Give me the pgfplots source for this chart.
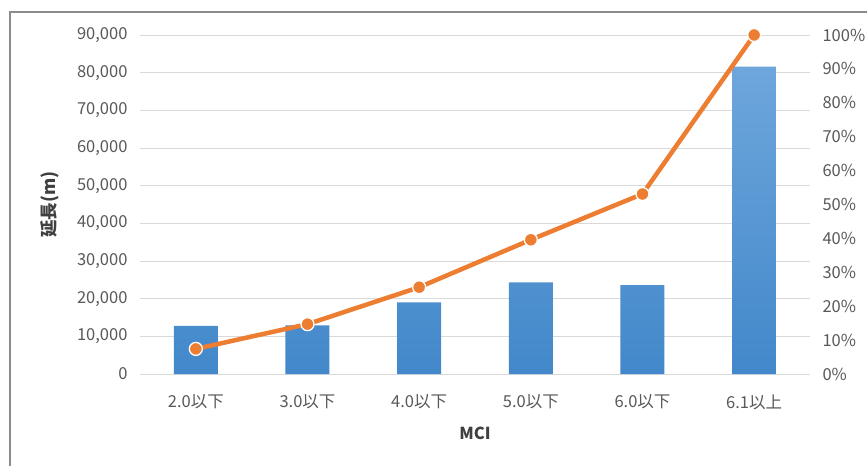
\documentclass[border=0pt]{standalone}
\usepackage{fontspec}
\setmainfont{Noto Sans CJK JP}
\usepackage{pgfplots}
\pgfplotsset{compat=1.18}
\definecolor{gridgray}{HTML}{D9D9D9}
\definecolor{ticktext}{HTML}{595959}
\definecolor{titletext}{HTML}{404040}
\definecolor{bartop}{HTML}{6EA6DC}
\definecolor{barbot}{HTML}{4288CA}
\definecolor{lineorange}{HTML}{ED7D31}
\definecolor{framegray}{HTML}{8C8C8C}

\pgfplotsset{
  base/.style={
    width=670pt, height=339pt, scale only axis,
    at={(0,0)}, anchor=south west,
    xmin=-0.5, xmax=5.5,
    axis line style={draw=none},
    major tick length=0pt,
    tick label style={font=\fontsize{16.5}{19}\selectfont, text=ticktext},
    /pgf/number format/assume math mode=true,
  },
}

\begin{document}
\begin{tikzpicture}[x=1pt,y=1pt]
\useasboundingbox (-140,-92) rectangle (727,374);
\fill[white] (-140,-92) rectangle (727,374);
\draw[framegray, line width=2pt] (-130,-92) -- (-130,362) -- (727,362);

% left axis: length (m)
\begin{axis}[base,
  ymin=0, ymax=90000,
  ytick={0,10000,...,90000},
  scaled y ticks=false,
  /pgf/number format/fixed,
  /pgf/number format/1000 sep={,},
  ymajorgrids, grid style={gridgray, line width=1pt},
  yticklabel style={xshift=-9pt},
  xtick={0,...,5},
  xticklabels={2.0以下,3.0以下,4.0以下,5.0以下,6.0以下,6.1以上},
  xticklabel style={yshift=-17pt},
  xlabel={MCI}, ylabel={延長(m)},
  every axis x label/.style={at={(axis description cs:0.5,0)}, anchor=center, yshift=-59pt,
    font=\fontsize{16.5}{19}\selectfont\bfseries, text=titletext},
  every axis y label/.style={at={(axis description cs:-0.134,0.5)}, anchor=center, rotate=90,
    font=\fontsize{17.5}{20}\selectfont\bfseries, text=titletext},
]
\addplot[ybar, bar width=44pt, draw=none, top color=bartop, bottom color=barbot]
  coordinates {(0,12800) (1,12900) (2,19000) (3,24300) (4,23600) (5,81600)};
\end{axis}

% right axis: cumulative share (%)
\begin{axis}[base,
  hide x axis,
  ymin=0, ymax=100,
  ytick={0,10,...,100},
  axis y line*=right,
  yticklabel={\pgfmathprintnumber{\tick}\%},
  yticklabel style={xshift=9pt},
]
\addplot[lineorange, line width=4.5pt, mark=*, mark size=6.5pt,
  mark options={fill=lineorange, draw=white, line width=1.3pt}]
  coordinates {(0,7.4) (1,14.7) (2,25.6) (3,39.6) (4,53.1) (5,100)};
\end{axis}
\end{tikzpicture}
\end{document}
